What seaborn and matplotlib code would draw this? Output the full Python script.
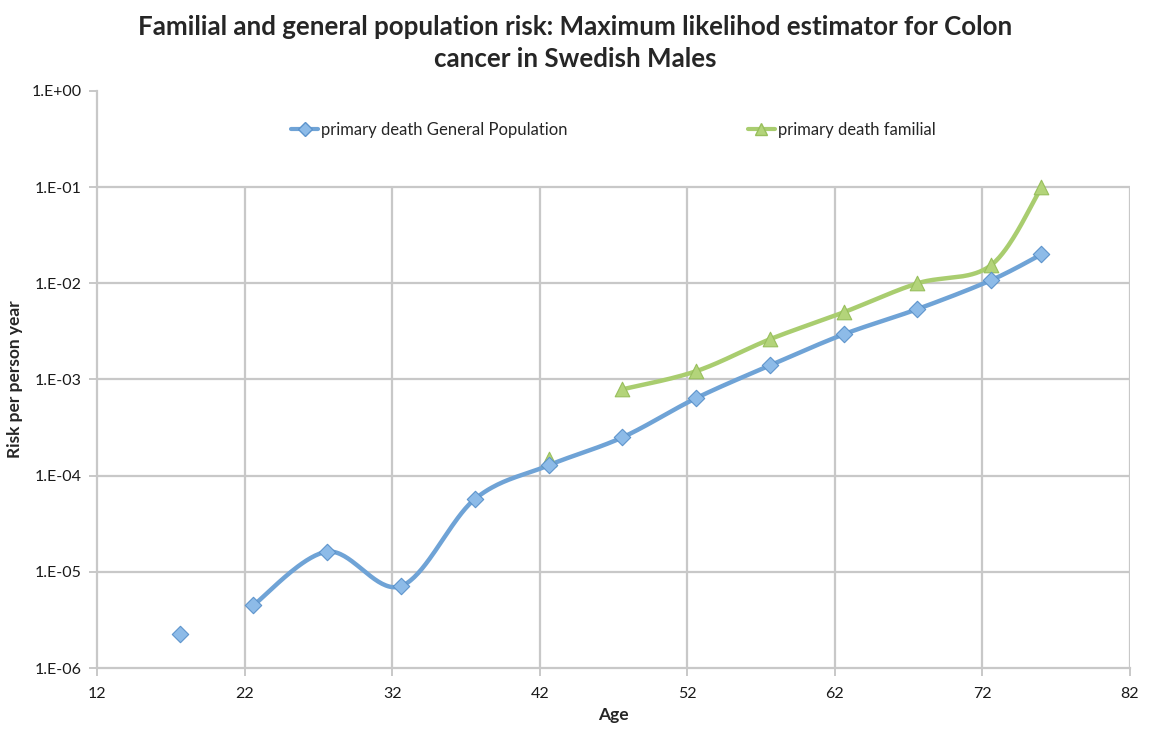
import numpy as np
import pandas as pd
import matplotlib
matplotlib.use("Agg")
import matplotlib.pyplot as plt
import seaborn as sns
from matplotlib.lines import Line2D

sns.set_style("white")
plt.rcParams['font.family'] = ['Lato', 'DejaVu Sans']

# ---- data ----
ages_general = [17.6, 22.6, 27.6, 32.6, 37.6, 42.6, 47.6, 52.6, 57.6, 62.6, 67.6, 72.6, 76.0]
risk_general = [2.25e-6, 4.5e-6, 1.62e-5, 7.1e-6, 5.7e-5, 1.28e-4, 2.5e-4, 6.4e-4,
                1.4e-3, 2.95e-3, 5.4e-3, 1.08e-2, 2.0e-2]
ages_familial = [42.6, 47.6, 52.6, 57.6, 62.6, 67.6, 72.6, 76.0]
risk_familial = [1.48e-4, 7.9e-4, 1.22e-3, 2.62e-3, 5.0e-3, 1.0e-2, 1.55e-2, 1.0e-1]
# index where the connected line starts (earlier point stands alone)
line_start_general = 1
line_start_familial = 1

x_ticks = [12, 22, 32, 42, 52, 62, 72, 82]
y_ticks = [1e-6, 1e-5, 1e-4, 1e-3, 1e-2, 1e-1, 1e0]
y_tick_labels = ["1.E-06", "1.E-05", "1.E-04", "1.E-03", "1.E-02", "1.E-01", "1.E+00"]

title = "Familial and general population risk: Maximum likelihod estimator for Colon\ncancer in Swedish Males"
label_general = "primary death General Population"
label_familial = "primary death familial"

blue_line = "#6fa3d6"
blue_face = "#8dbbe8"
blue_edge = "#5d94cc"
green_line = "#a9cd6f"
green_face = "#b3d47a"
green_edge = "#98bf5c"
grid_col = "#c8c8c8"

fig = plt.figure(figsize=(11.5, 7.33), dpi=100)
ax = fig.add_axes([97/1150, 1-668/733, (1130-97)/1150, (668-91)/733])
ax.set_yscale("log")
ax.set_xlim(x_ticks[0], x_ticks[-1])
ax.set_ylim(y_ticks[0], y_ticks[-1])

# pixel scale for smoothing (display-space Bezier like Excel)
px_x = (1130-97) / (x_ticks[-1]-x_ticks[0])
px_y = (668-91) / 6.0


def smooth(xs, ys, n=40):
    P = np.column_stack([np.array(xs) * px_x, np.log10(ys) * px_y])
    out = []
    m = len(P)
    for i in range(m - 1):
        p0 = P[i - 1] if i > 0 else P[i]
        p1 = P[i]
        p2 = P[i + 1]
        p3 = P[i + 2] if i + 2 < m else P[i + 1]
        c1 = p1 + (p2 - p0) / 6.0
        c2 = p2 - (p3 - p1) / 6.0
        t = np.linspace(0, 1, n)[:, None]
        seg = ((1-t)**3)*p1 + 3*((1-t)**2)*t*c1 + 3*(1-t)*(t**2)*c2 + (t**3)*p2
        out.append(seg if i == 0 else seg[1:])
    S = np.vstack(out)
    return S[:, 0] / px_x, 10 ** (S[:, 1] / px_y)

# grid (only below 1E-01, legend area above is clear)
for xv in x_ticks[1:]:
    ax.plot([xv, xv], [y_ticks[0], y_ticks[-2]], color=grid_col, lw=1.6, zorder=0)
for yv in y_ticks[1:-1]:
    ax.plot([x_ticks[0], x_ticks[-1]], [yv, yv], color=grid_col, lw=1.6, zorder=0)

sx, sy = smooth(ages_general[line_start_general:], risk_general[line_start_general:])
sns.lineplot(x=sx, y=sy, sort=False, ax=ax, color=blue_line, lw=3.2, zorder=2)
fx, fy = smooth(ages_familial[line_start_familial:], risk_familial[line_start_familial:])
sns.lineplot(x=fx, y=fy, sort=False, ax=ax, color=green_line, lw=3.2, zorder=2)

ax.scatter(ages_general, risk_general, marker="D", s=70, color=blue_face,
           edgecolor=blue_edge, linewidth=0.8, zorder=4)
ax.scatter(ages_familial, risk_familial, marker="^", s=110, color=green_face,
           edgecolor=green_edge, linewidth=0.8, zorder=3)

ax.set_xticks(x_ticks)
ax.set_xticklabels([str(v) for v in x_ticks])
ax.set_yticks(y_ticks)
ax.set_yticklabels(y_tick_labels)
ax.yaxis.set_minor_locator(matplotlib.ticker.NullLocator())
ax.tick_params(axis="both", which="major", direction="out", length=6, width=1.4,
               color=grid_col, labelsize=11.5, labelcolor="#1a1a1a", pad=5, left=True, bottom=True)
ax.tick_params(axis="x", pad=8)

for s in ["top", "right"]:
    ax.spines[s].set_visible(False)
for s in ["left", "bottom"]:
    ax.spines[s].set_color(grid_col)
    ax.spines[s].set_linewidth(1.6)

ax.set_xlabel("Age", fontsize=12.5, fontweight="bold", labelpad=4)
ax.set_ylabel("Risk per person year", fontsize=12.5, fontweight="bold", labelpad=6)

fig.suptitle(title, fontsize=18.6, fontweight="bold", y=0.98, linespacing=1.4)

handles = [
    Line2D([0], [0], color=blue_line, lw=3, marker="D", markersize=7,
           markerfacecolor=blue_face, markeredgecolor=blue_edge),
    Line2D([0], [0], color=green_line, lw=3, marker="^", markersize=8,
           markerfacecolor=green_face, markeredgecolor=green_edge),
]
ax.legend(handles, [label_general, label_familial], loc="center",
          bbox_to_anchor=(0.5, 1 - (130-91)/(668-91)), ncol=2, frameon=False,
          fontsize=12, handlelength=1.6, handletextpad=0.2, columnspacing=10.8)

fig.savefig("out.png", dpi=100)
